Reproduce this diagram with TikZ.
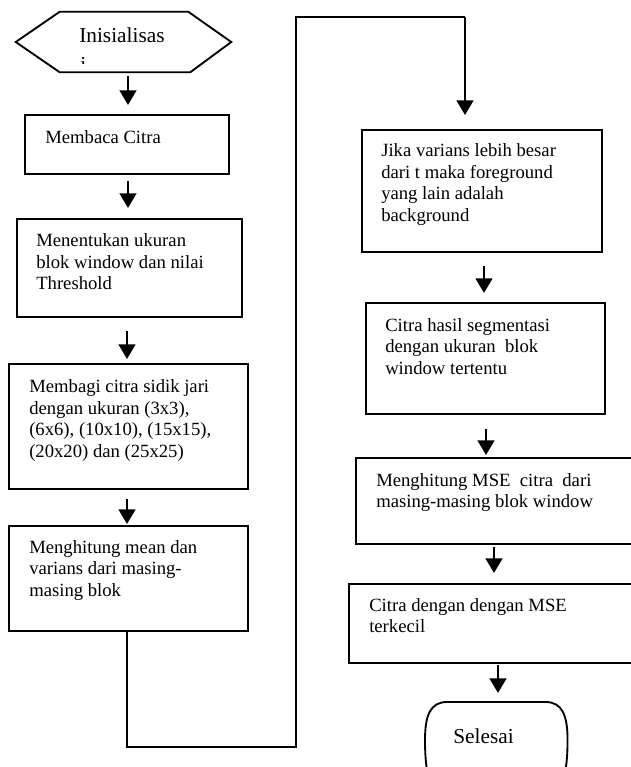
\documentclass[tikz,border=0pt]{standalone}
\usepackage{fontspec}
\setmainfont{Liberation Serif}
\usetikzlibrary{arrows.meta,calc}
\begin{document}
\begin{tikzpicture}[x=0.75pt,y=-0.75pt,
  box/.style={draw=black,line width=1.4pt,rectangle,inner sep=0pt,anchor=north west},
  txt/.style={anchor=base west,inner sep=0pt,align=left,font=\fontsize{14}{16.05}\selectfont},
  big/.style={anchor=base west,inner sep=0pt,font=\fontsize{16}{19}\selectfont},
  arr/.style={line width=1.9pt,line join=miter,-{Triangle[width=12.5pt,length=11pt]}},
  link/.style={line width=1.5pt,line join=miter},
  termbox/.style={inner sep=0pt,anchor=north west}]
\useasboundingbox (0,0) rectangle (631,767);
\clip (0,0) rectangle (631,767);

% start hexagon
\node[inner sep=0pt,minimum width=215*0.75pt,minimum height=60*0.75pt] (hex) at (123.5,42) {};
\draw[line width=1.4pt] (hex.west) -- ($(hex.north west)+(44,0)$) -- ($(hex.north east)+(-43,0)$)
  -- (hex.east) -- ($(hex.south east)+(-41,0)$) -- ($(hex.south west)+(44,0)$) -- cycle;
\node[big] (t0) at (79,43) {Inisialisas};
\begin{scope}
  \clip (0,0) rectangle (631,64);
  \node[big] (t0b) at (80,71) {i};
\end{scope}

% boxes
\node[box,minimum width=204*0.75pt,minimum height=59*0.75pt] (b1) at (24,114) {};
\node[box,minimum width=225*0.75pt,minimum height=98*0.75pt] (b2) at (16,218) {};
\node[box,minimum width=239*0.75pt,minimum height=125*0.75pt] (b3) at (8,363) {};
\node[box,minimum width=239*0.75pt,minimum height=105*0.75pt] (b4) at (8,525) {};
\node[box,minimum width=240*0.75pt,minimum height=122*0.75pt] (b5) at (361,129) {};
\node[box,minimum width=239*0.75pt,minimum height=111*0.75pt] (b6) at (365,302) {};
\node[box,minimum width=300*0.75pt,minimum height=86*0.75pt] (b7) at (355,457) {};
\node[box,minimum width=300*0.75pt,minimum height=79*0.75pt] (b8) at (348,583) {};

% terminator (its lower half runs off the page)
\node[termbox,minimum width=142*0.75pt,minimum height=96*0.75pt] (b9) at (425,702) {};
\draw[line width=1.4pt]
  ($(b9.north west)+(22,0)$) -- ($(b9.north east)+(-22,0)$)
  .. controls ($(b9.north east)+(-5,0)$) and ($(b9.north east)+(0,14)$) .. ($(b9.north east)+(0,38)$)
  .. controls ($(b9.east)+(0,12)$) and ($(b9.south east)+(-2,-14)$) .. ($(b9.south east)+(-14,0)$)
  -- ($(b9.south west)+(14,0)$)
  .. controls ($(b9.south west)+(2,-14)$) and ($(b9.west)+(0,12)$) .. ($(b9.north west)+(0,38)$)
  .. controls ($(b9.north west)+(0,14)$) and ($(b9.north west)+(5,0)$) .. cycle;

% texts (anchor = baseline of the last line)
\node[txt] (t1) at (45,143) {Membaca Citra};
\node[txt] (t2) at (36,289.5) {Menentukan ukuran\\blok window dan nilai\\Threshold};
\node[txt] (t3) at (29,457) {Membagi citra sidik jari\\dengan ukuran (3x3),\\(6x6), (10x10), (15x15),\\(20x20) dan (25x25)};
\node[txt] (t4) at (29,596) {Menghitung mean dan\\varians dari masing-\\masing blok};
\node[txt] (t5) at (381,221) {Jika varians lebih besar\\dari t maka foreground\\yang lain adalah\\background};
\node[txt] (t6) at (385,374) {Citra hasil segmentasi\\dengan ukuran\ \ blok\\window tertentu};
\node[txt] (t7) at (376,507.4) {Menghitung MSE\ \ citra\ \ dari\\masing-masing blok window};
\node[txt] (t8) at (369,632.4) {Citra dengan dengan MSE\\terkecil};
\node[big] (t9) at (453,743) {Selesai};

% arrow columns
\coordinate (x1) at (128,0);
\coordinate (x3) at (127,0);
\coordinate (x5) at (484,0);
\coordinate (x6) at (486,0);
\coordinate (x7) at (494,0);
\coordinate (x8) at (498,0);

\draw[arr,shorten <=3pt,shorten >=6.75pt] (hex.south -| x1) -- (b1.north -| x1);
\draw[arr,shorten <=4.5pt,shorten >=7.5pt] (b1.south -| x1) -- (b2.north -| x1);
\draw[arr,shorten <=9.75pt,shorten >=3pt] (b2.south -| x3) -- (b3.north -| x3);
\draw[arr,shorten <=6.75pt,shorten >=0.75pt] (b3.south -| x3) -- (b4.north -| x3);
\draw[arr,shorten <=9.75pt,shorten >=6.75pt] (b5.south -| x5) -- (b6.north -| x5);
\draw[arr,shorten <=10.5pt,shorten >=1.5pt] (b6.south -| x6) -- (b7.north -| x6);
\draw[arr,shorten <=1.5pt,shorten >=7.5pt] (b7.south -| x7) -- (b8.north -| x7);
\draw[arr,shorten <=0.75pt,shorten >=6.75pt] (b8.south -| x8) -- (b9.north -| x8);

% long connector from column 1 to column 2
\coordinate (c1) at (127,747);
\coordinate (c2) at (296,747);
\coordinate (c3) at (296,17);
\coordinate (c4) at (465,17);
\draw[link] (b4.south -| c1) -- (c1) -- (c2) -- (c3) -- (c4);
\draw[arr,shorten >=10.5pt] (c4) -- (b5.north -| c4);
\end{tikzpicture}
\end{document}
